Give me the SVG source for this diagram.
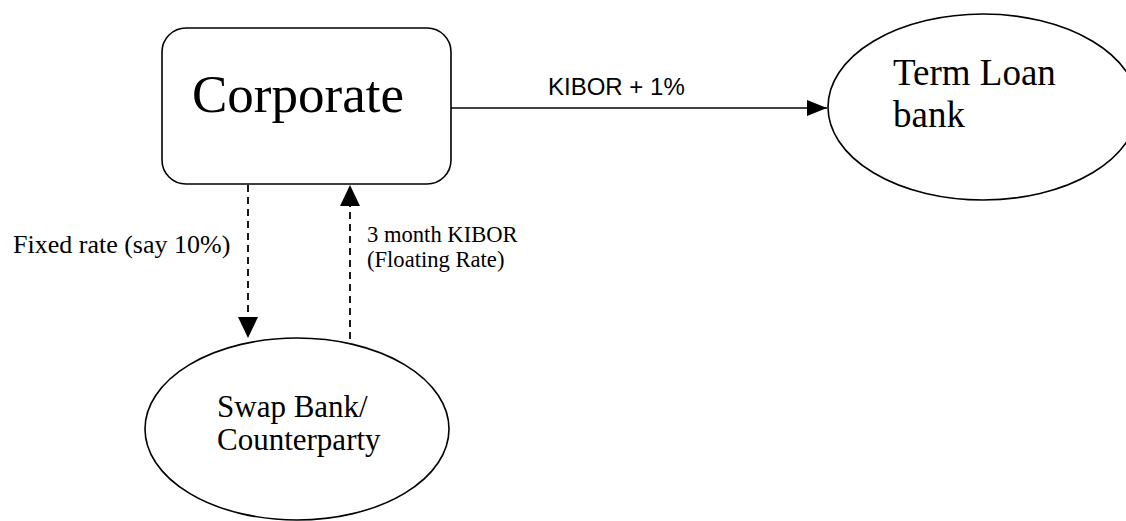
<svg xmlns="http://www.w3.org/2000/svg" width="1126" height="521" viewBox="0 0 1126 521">
<defs>
<style>
.shape{fill:#fff;stroke:#000;stroke-width:1.6}
.serif{font-family:"Liberation Serif","Times New Roman",serif;fill:#000}
.sans{font-family:"Liberation Sans",Arial,sans-serif;fill:#000}
.solid{stroke:#000;stroke-width:1.6;fill:none}
.dash{stroke:#000;stroke-width:1.8;fill:none;stroke-dasharray:7 5}
</style>
<marker id="ahH" viewBox="0 0 20 16" refX="20" refY="8" markerWidth="20" markerHeight="16" orient="auto" markerUnits="userSpaceOnUse">
<path d="M0,0 L20,8 L0,16 z" fill="#000"/>
</marker>
<marker id="ahV" viewBox="0 0 21 20" refX="21" refY="10" markerWidth="21" markerHeight="20" orient="auto" markerUnits="userSpaceOnUse">
<path d="M0,0 L21,10 L0,20 z" fill="#000"/>
</marker>
</defs>
<rect width="1126" height="521" fill="#fff"/>
<g id="connectors">
<line class="solid" x1="451" y1="108" x2="827" y2="108" marker-end="url(#ahH)"/>
<line class="dash" x1="248" y1="185" x2="248" y2="338" marker-end="url(#ahV)"/>
<line class="dash" x1="350" y1="339" x2="350" y2="185" marker-end="url(#ahV)"/>
<text class="sans" x="548" y="95" font-size="24">KIBOR + 1%</text>
<text class="serif" x="13" y="253" font-size="26">Fixed rate (say 10%)</text>
<text class="serif" x="367" y="242" font-size="22.6">3 month KIBOR</text>
<text class="serif" x="367" y="267" font-size="22.6">(Floating Rate)</text>
</g>
<g id="corporate">
<rect class="shape" x="162" y="28" width="289" height="156" rx="24" ry="24"/>
<text class="serif" x="192" y="112" font-size="53">Corporate</text>
</g>
<g id="term-loan-bank">
<ellipse class="shape" cx="983" cy="107" rx="155" ry="93"/>
<text class="serif" x="893" y="85" font-size="37">Term Loan</text>
<text class="serif" x="893" y="127" font-size="37">bank</text>
</g>
<g id="swap-bank">
<ellipse class="shape" cx="297" cy="429" rx="152" ry="91"/>
<text class="serif" x="217" y="417" font-size="31">Swap Bank/</text>
<text class="serif" x="217" y="450" font-size="31">Counterparty</text>
</g>
</svg>
